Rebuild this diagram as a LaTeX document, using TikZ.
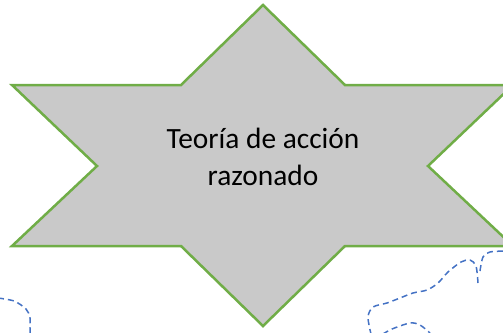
\documentclass[tikz,border=0pt]{standalone}
\usepackage{fontspec}
\setmainfont{Carlito}
\definecolor{stargreen}{HTML}{70AD47}
\definecolor{stargray}{HTML}{C9C9C9}
\definecolor{cloudblue}{HTML}{4472C4}
\tikzset{
  cloudline/.style={cloudblue, line width=1.5bp, dash pattern=on 6bp off 4bp},
}
\begin{document}
\begin{tikzpicture}[x=1bp,y=-1bp] %[scale=0.8]
    \useasboundingbox (0,0) rectangle (503,332);
    \draw [stargreen, line width=2.5bp, fill=stargray, line join=miter]
      (263,5) -- (345,85) -- (513,85) -- (428,166) -- (513,246) -- (345,246)
      -- (263,326) -- (181,246) -- (12,246) -- (97,166) -- (12,85) -- (181,85) -- cycle;
    \node (teoria) [align=center, font=\fontsize{29.5}{37}\selectfont] at (263,157)
      {Teoría de acción\\razonado};
    \draw [cloudline] plot [smooth] coordinates
      {(-2,298) (14,301) (26,309) (30,318) (30,334)};
    \draw [cloudline] plot [smooth] coordinates
      {(478,283) (476,266) (470,260) (461,262) (448,272) (438,283) (427,290)
       (413,293) (400,298) (387,303) (373,307) (368,317) (371,334)};
    \draw [cloudline] plot [smooth] coordinates
      {(383,334) (392,329) (410,323) (420,325) (430,333)};
    \draw [cloudline] plot [smooth] coordinates
      {(480,271) (483,257) (490,252) (506,251)};
\end{tikzpicture}
\end{document}
